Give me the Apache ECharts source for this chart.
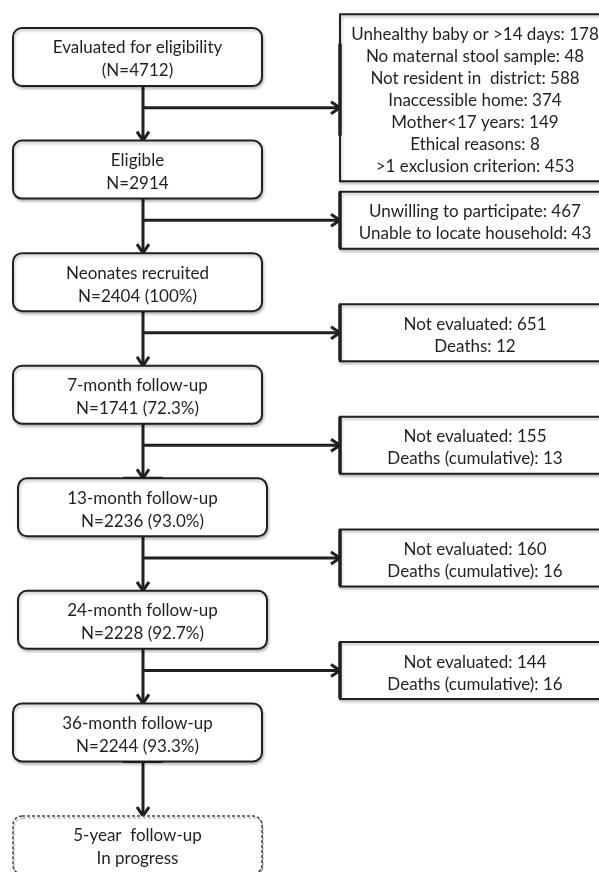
<!DOCTYPE html>
<html>
<head>
<meta charset="utf-8">
<script src="https://cdn.jsdelivr.net/npm/echarts@6/dist/echarts.min.js"></script>
<style>
  html, body { margin: 0; padding: 0; background: #fff; }
  #flow { width: 599px; height: 872px; }
</style>
</head>
<body>
<div id="flow"></div>
<script>
// stages down the left side (title line, count line)
const stageNames = [
  'Evaluated for eligibility',
  'Eligible',
  'Neonates recruited',
  '7-month follow-up',
  '13-month follow-up',
  '24-month follow-up',
  '36-month follow-up',
  '5-year  follow-up'
];
const stageCounts = [
  '(N=4712)',
  'N=2914',
  'N=2404 (100%)',
  'N=1741 (72.3%)',
  'N=2236 (93.0%)',
  'N=2228 (92.7%)',
  'N=2244 (93.3%)',
  'In progress'
];
// losses between consecutive stages
const exclusionLines = [
  ['Unhealthy baby or >14 days: 178', 'No maternal stool sample: 48', 'Not resident in  district: 588',
   'Inaccessible home: 374', 'Mother<17 years: 149', 'Ethical reasons: 8', '>1 exclusion criterion: 453'],
  ['Unwilling to participate: 467', 'Unable to locate household: 43'],
  ['Not evaluated: 651', 'Deaths: 12'],
  ['Not evaluated: 155', 'Deaths (cumulative): 13'],
  ['Not evaluated: 160', 'Deaths (cumulative): 16'],
  ['Not evaluated: 144', 'Deaths (cumulative): 16']
];

// layout (pixels)
const INK = '#231f20';
const FONT = 'Lato';
const leftW = 249, leftH = 58, rightW = 270;
const leftShift = [0, 0, 0, 0, 5, 5, 0, 0];
const rightShift = [-10, 0, 0, 0, 0, 0];
const trunkOffset = 5.5;
const branchAt = 0.45;
const textDrop = 2.5;

let chart = echarts.init(document.getElementById('flow'));

function textLines(lines, cx, cy, lh) {
  return lines.map((t, i) => ({
    type: 'text',
    style: {
      text: t, x: cx, y: cy + textDrop + (i - (lines.length - 1) / 2) * lh,
      align: 'center', verticalAlign: 'middle',
      fontSize: 17, fontFamily: FONT, fill: INK
    }
  }));
}

function arrowHead(x, y, dir) {
  // open chevron, tip at (x, y)
  let pts = dir === 'down'
    ? [[x - 6, y - 9], [x, y], [x + 6, y - 9]]
    : [[x - 9, y - 6], [x, y], [x - 9, y + 6]];
  return { type: 'polyline', shape: { points: pts }, style: { stroke: INK, lineWidth: 3, fill: null } };
}

const option = {
  animation: false,
  grid: { left: 2.5, width: 607.5, top: 0.7, height: 900.6, outerBoundsMode: 'none', containLabel: false },
  xAxis: { type: 'value', min: -0.4, max: 1.4, show: false },
  yAxis: { type: 'value', min: -0.5, max: 7.5, inverse: true, show: false },
  series: [
    {
      // arrows
      type: 'custom',
      clip: false,
      z: 1,
      data: stageNames.slice(0, -1).map((n, i) => [0, i]),
      renderItem(params, api) {
        let i = api.value(1);
        let a = api.coord([0, i]);
        let b = api.coord([0, i + 1]);
        let x = a[0] + trunkOffset;
        let y0 = a[1] + leftH / 2, y1 = b[1] - leftH / 2;
        let kids = [
          { type: 'line', shape: { x1: x, y1: y0, x2: x, y2: y1 - 1 }, style: { stroke: INK, lineWidth: 3 } },
          arrowHead(x, y1, 'down')
        ];
        if (i < exclusionLines.length) {
          let br = api.coord([0, i + branchAt])[1];
          let xr = api.coord([1, 0])[0] - rightW / 2;
          kids.push({ type: 'line', shape: { x1: x, y1: br, x2: xr - 1, y2: br }, style: { stroke: INK, lineWidth: 3 } });
          kids.push(arrowHead(xr, br, 'right'));
        }
        // short heavy bars at some box edges
        if (i === 3) kids.push({ type: 'line', shape: { x1: x - 20, y1: y1, x2: x + 20, y2: y1 }, style: { stroke: INK, lineWidth: 3 } });
        if (i === 6) kids.push({ type: 'line', shape: { x1: x - 20, y1: y0, x2: x + 20, y2: y0 }, style: { stroke: INK, lineWidth: 3 } });
        return { type: 'group', children: kids };
      }
    },
    {
      // stage boxes
      type: 'custom',
      clip: false,
      z: 2,
      data: stageNames.map((n, i) => [0, i]),
      renderItem(params, api) {
        let i = api.value(1);
        let c = api.coord([0, i]);
        let cx = c[0] + leftShift[i];
        let dashed = i === stageNames.length - 1;
        let box = {
          type: 'rect',
          shape: { x: cx - leftW / 2, y: c[1] - leftH / 2, width: leftW, height: leftH, r: 9 },
          style: {
            fill: '#fff', stroke: dashed ? '#444' : INK, lineWidth: dashed ? 1.5 : 2,
            lineDash: dashed ? [3, 2] : null,
            shadowBlur: dashed ? 0 : 3, shadowOffsetX: 1, shadowOffsetY: 2, shadowColor: 'rgba(0,0,0,0.25)'
          }
        };
        return { type: 'group', children: [box].concat(textLines([stageNames[i], stageCounts[i]], cx, c[1], 23)) };
      }
    },
    {
      // exclusion boxes
      type: 'custom',
      clip: false,
      z: 2,
      data: exclusionLines.map((l, i) => [1, i + branchAt]),
      renderItem(params, api) {
        let i = params.dataIndex;
        let lines = exclusionLines[i];
        let c = api.coord([1, api.value(1)]);
        let h = lines.length * 22 + 13;
        let cy = c[1] + rightShift[i];
        let top = cy - h / 2, left = c[0] - rightW / 2;
        let t0 = Math.max(top, c[1] - 64), t1 = Math.min(top + h, c[1] + 28);
        return {
          type: 'group',
          children: [
            {
              type: 'rect',
              shape: { x: left, y: top, width: rightW, height: h },
              style: { fill: '#fff', stroke: INK, lineWidth: 2, shadowBlur: 3, shadowOffsetX: 1, shadowOffsetY: 2, shadowColor: 'rgba(0,0,0,0.25)' }
            },
            { type: 'line', shape: { x1: left, y1: t0, x2: left, y2: t1 }, style: { stroke: INK, lineWidth: 3.5 } }
          ].concat(textLines(lines, c[0], cy, 22))
        };
      }
    }
  ]
};

chart.setOption(option);
</script>
</body>
</html>
